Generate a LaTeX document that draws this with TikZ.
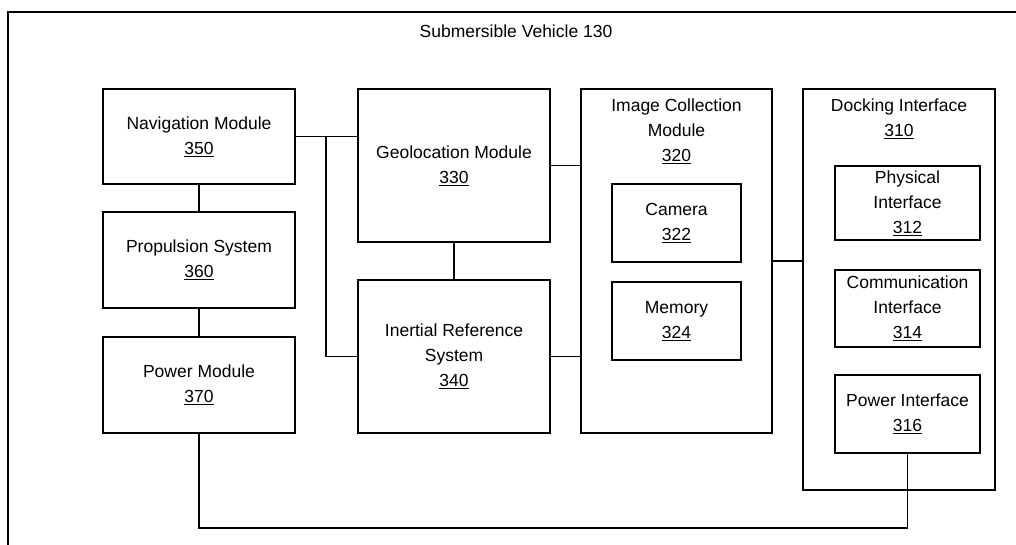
\documentclass[tikz,border=0pt]{standalone}
\usepackage{fontspec}
\setmainfont{Liberation Sans}
\begin{document}
\begin{tikzpicture}[x=1pt,y=-1pt,
  box/.style={draw=black, line width=1.4pt, rectangle, inner sep=0pt, align=center,
    font=\fontsize{17.5}{25}\selectfont},
  title/.style={inner sep=0pt, align=center, anchor=north, font=\fontsize{17.5}{25}\selectfont},
  wire/.style={draw=black, line width=1.4pt}]
\useasboundingbox (0,0) rectangle (1016,544);
\clip (0,0) rectangle (1016,544);
\draw[line width=1.4pt] (8,12) rectangle (1030,560);
\node[title] (veh) at (516,25) {Submersible Vehicle 130};

\node[box, minimum width=192pt, minimum height=95pt] (nav) at (199,136.5) {Navigation Module\\\underline{350}};
\node[box, minimum width=192pt, minimum height=96pt] (prop) at (199,260) {Propulsion System\\\underline{360}};
\node[box, minimum width=192pt, minimum height=96pt] (pow) at (199,385) {Power Module\\\underline{370}};
\node[box, minimum width=192pt, minimum height=153pt] (geo) at (454,165.5) {Geolocation Module\\\underline{330}};
\node[box, minimum width=192pt, minimum height=153pt] (irs) at (454,356.5) {Inertial Reference\\System\\\underline{340}};

\node[box, minimum width=191pt, minimum height=344pt] (icm) at (676.5,261) {};
\node[title] (icmt) at (676.5,99) {Image Collection\\Module\\\underline{320}};
\node[box, minimum width=129pt, minimum height=78pt] (cam) at (676.5,223) {Camera\\\underline{322}};
\node[box, minimum width=129pt, minimum height=78pt] (mem) at (676.5,321) {Memory\\\underline{324}};

\node[box, minimum width=192pt, minimum height=401pt] (dock) at (899,289.5) {};
\node[title] (dockt) at (899,99) {Docking Interface\\\underline{310}};
\node[box, minimum width=145pt, minimum height=74pt] (phys) at (907.5,203) {Physical\\Interface\\\underline{312}};
\node[box, minimum width=145pt, minimum height=77pt] (comm) at (907.5,308.5) {Communication\\Interface\\\underline{314}};
\node[box, minimum width=145pt, minimum height=78pt] (pint) at (907.5,414) {Power Interface\\\underline{316}};

\coordinate (j) at (326,137);
\coordinate (bus) at (0,528);
\draw[wire] (nav) -- (prop);
\draw[wire] (prop) -- (pow);
\draw[wire] (nav.east) -- (nav.east -| geo.west);
\draw[wire] (j) |- (irs.west);
\draw[wire] (geo) -- (irs);
\draw[wire] (geo.east) -- (geo.east -| icm.west);
\draw[wire] (irs.east) -- (irs.east -| icm.west);
\draw[wire] (icm.east) -- (icm.east -| dock.west);
\draw[wire] (pint.south) -- (pint.south |- bus) -| (pow.south);
\end{tikzpicture}
\end{document}
